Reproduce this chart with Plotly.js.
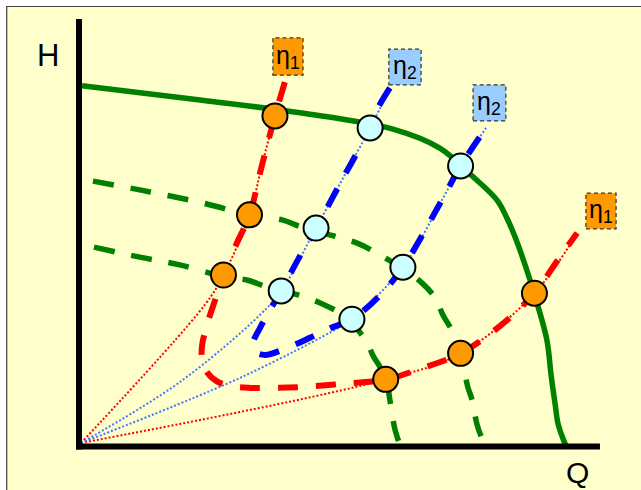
<!DOCTYPE html>
<html>
<head>
<meta charset="utf-8">
<script src="https://cdn.plot.ly/plotly-3.0.1.min.js"></script>
<style>html,body{margin:0;padding:0;background:#fff;}#chart{width:641px;height:490px;}</style>
</head>
<body>
<div id="chart"></div>
<script>
// Pump curve (H vs Q), arbitrary units 0..100
const pumpQ  = [0.2, 22.9, 42.1, 60.0, 69.0, 75.4, 80.0, 81.9, 83.7, 85.4, 87.1, 89.6, 90.4, 91.2, 91.7, 92.5, 93.3];
const pumpH  = [92.1, 88.4, 85.1, 80.9, 76.0, 68.6, 62.6, 58.0, 52.3, 45.9, 38.7, 26.5, 17.5, 9.8, 5.2, 1.8, -0.8];
// Reduced-speed curves
const speed2Q = [2.3, 13.3, 24.2, 32.3, 38.7, 42.1, 53.1, 56.5, 61.3, 65.6, 68.1, 69.6, 71.5, 72.9, 74.4, 75.2, 76.2, 77.7];
const speed2H = [67.5, 64.7, 61.6, 58.8, 57.5, 55.8, 51.5, 49.2, 45.4, 41.2, 37.4, 33.0, 28.6, 23.2, 14.4, 11.1, 4.6, -0.8];
const speed3Q = [2.5, 11.3, 19.0, 27.1, 31.9, 35.8, 41.9, 46.0, 49.8, 52.1, 53.7, 55.0, 56.2, 57.5, 58.7, 59.4, 60.4, 61.7];
const speed3H = [50.5, 47.9, 45.9, 43.0, 42.0, 40.2, 38.1, 36.1, 33.5, 31.2, 28.4, 26.0, 22.4, 19.6, 16.5, 11.1, 3.4, -1.8];
// Similarity curves (from origin)
const simRed1Q  = [0, 23.8, 27.4, 32.4, 34.8, 37.3, 39.2];
const simRed1H  = [0, 35.6, 43.3, 58.8, 71.6, 84.3, 93.0];
const simRed2Q  = [0, 58.6, 73.0, 87.2, 95.4];
const simRed2H  = [0, 16.4, 23.1, 38.6, 54.1];
const simBlue1Q = [0, 19.0, 34.4, 38.5, 45.2, 50.4, 55.6, 59.4];
const simBlue1H = [0, 15.7, 33.0, 39.2, 55.4, 68.3, 81.2, 91.5];
const simBlue2Q = [0, 30.6, 49.8, 52.1, 61.9, 69.6, 73.0, 77.9];
const simBlue2H = [0, 16.8, 29.9, 31.9, 45.3, 63.1, 71.4, 81.2];
// Iso-efficiency curves
const eta1Q = [39.2, 37.3, 34.8, 32.4, 29.8, 27.4, 25.8, 24.4, 23.3, 23.3, 24.2, 26.0, 28.7, 32.5, 37.3, 42.1, 49.8, 58.6, 65.2, 73.0, 80.6, 87.2, 91.3, 95.4];
const eta1H = [93.0, 84.3, 71.6, 58.8, 51.0, 43.3, 36.9, 31.2, 25.3, 21.4, 18.3, 16.0, 14.7, 14.2, 14.2, 14.4, 15.2, 16.4, 19.1, 23.1, 30.2, 38.6, 46.4, 54.1];
const eta2Q = [59.4, 56.9, 55.6, 50.4, 45.2, 41.7, 38.5, 36.0, 34.4, 33.1, 33.5, 35.4, 39.6, 44.0, 47.9, 52.1, 57.5, 61.9, 69.6, 73.0, 77.9];
const eta2H = [91.5, 85.8, 81.2, 68.3, 55.4, 47.2, 39.2, 33.5, 29.6, 25.8, 23.5, 22.7, 24.5, 27.1, 29.6, 31.9, 38.1, 45.3, 63.1, 71.4, 81.2];
// Operating points
const orangeQ = [37.3, 32.4, 27.4, 58.6, 73.0, 87.2];
const orangeH = [84.3, 58.8, 43.3, 16.4, 23.1, 38.6];
const cyanQ = [55.6, 45.2, 38.5, 73.0, 61.9, 52.1];
const cyanH = [81.2, 55.4, 39.2, 71.4, 45.3, 31.9];
// Labels
const labelText = ['η<sub>1</sub>', 'η<sub>2</sub>', 'η<sub>2</sub>', 'η<sub>1</sub>'];
const labelFill = ['#FF9900', '#99CCFF', '#99CCFF', '#FF9900'];

const RED = '#FF0000', BLUE = '#0000FF', LBLUE = '#4477FF', GREEN = '#008000';
const sp = {shape: 'spline', smoothing: 1};
function line(x, y, color, width, dash) {
  return {x: x, y: y, type: 'scatter', mode: 'lines', hoverinfo: 'skip',
    line: Object.assign({color: color, width: width, dash: dash}, sp)};
}
const traces = [
  line(simRed1Q, simRed1H, RED, 2, '2px,2px'),
  line(simRed2Q, simRed2H, RED, 2, '2px,2px'),
  line(simBlue1Q, simBlue1H, LBLUE, 2, '2px,2px'),
  line(simBlue2Q, simBlue2H, LBLUE, 2, '2px,2px'),
  line(pumpQ, pumpH, GREEN, 5.5, 'solid'),
  line(speed2Q, speed2H, GREEN, 5.5, '21px,17px'),
  line(speed3Q, speed3H, GREEN, 5.5, '21px,17px'),
  line(eta1Q, eta1H, RED, 6, '20px,18px'),
  line(eta2Q, eta2H, BLUE, 6, '20px,18px'),
  {x: orangeQ, y: orangeH, type: 'scatter', mode: 'markers', hoverinfo: 'skip',
   marker: {size: 25, color: '#FF9900', line: {color: '#000', width: 2}}},
  {x: cyanQ, y: cyanH, type: 'scatter', mode: 'markers', hoverinfo: 'skip',
   marker: {size: 25, color: '#CCFFFF', line: {color: '#000', width: 2}}}
];

// label boxes [x0,x1,y0,y1]
const boxes = [[36.9, 42.7, 94.8, 104.4], [59.2, 65.4, 92.3, 101.5], [75.4, 81.7, 83.0, 92.3], [97.1, 102.9, 55.2, 64.4]];
const shapes = [
  {type: 'rect', xref: 'paper', yref: 'paper', x0: -0.105, x1: 1.06, y0: -0.1, y1: 1.0191, layer: 'below',
   line: {color: '#404040', width: 1.2}, fillcolor: '#FFFFCC'},
  {type: 'line', xref: 'x', yref: 'y', x0: -0.385, x1: -0.385, y0: -1.68, y1: 109.3, line: {color: '#000', width: 6}},
  {type: 'line', xref: 'x', yref: 'y', x0: -0.96, x1: 99.8, y0: -0.9, y1: -0.9, line: {color: '#000', width: 6}}
];
const annotations = [
  {x: -0.0306, y: 0.908, xref: 'paper', yref: 'paper', xanchor: 'center', yanchor: 'middle', text: 'H', showarrow: false, font: {family: 'Liberation Sans, Arial', size: 31, color: '#000'}},
  {x: 0.924, y: -0.028, xref: 'paper', yref: 'paper', xanchor: 'center', yanchor: 'middle', text: 'Q', showarrow: false, font: {family: 'Liberation Sans, Arial', size: 30, color: '#000'}}
];
boxes.forEach(function (b, i) {
  shapes.push({type: 'rect', xref: 'x', yref: 'y', x0: b[0], x1: b[1], y0: b[2], y1: b[3],
    fillcolor: labelFill[i], line: {color: '#333', width: 1.2, dash: '4px,3px'}});
  annotations.push({x: (b[0] + b[1]) / 2, y: (b[2] + b[3]) / 2, xref: 'x', yref: 'y', text: labelText[i],
    xanchor: 'center', yanchor: 'middle',
    showarrow: false, font: {family: 'Liberation Sans, Arial', size: 25, color: '#000'}});
});

const layout = {
  width: 641, height: 490,
  margin: {l: 65, r: 21, t: 15, b: 30, pad: 0},
  paper_bgcolor: '#FFFFFF', plot_bgcolor: 'rgba(0,0,0,0)',
  showlegend: false,
  xaxis: {range: [-3.0769, 103.654], visible: false, fixedrange: true},
  yaxis: {range: [-4.3814, 110.309], visible: false, fixedrange: true},
  shapes: shapes,
  annotations: annotations
};
Plotly.newPlot('chart', traces, layout, {staticPlot: true, displayModeBar: false});
</script>
</body>
</html>
